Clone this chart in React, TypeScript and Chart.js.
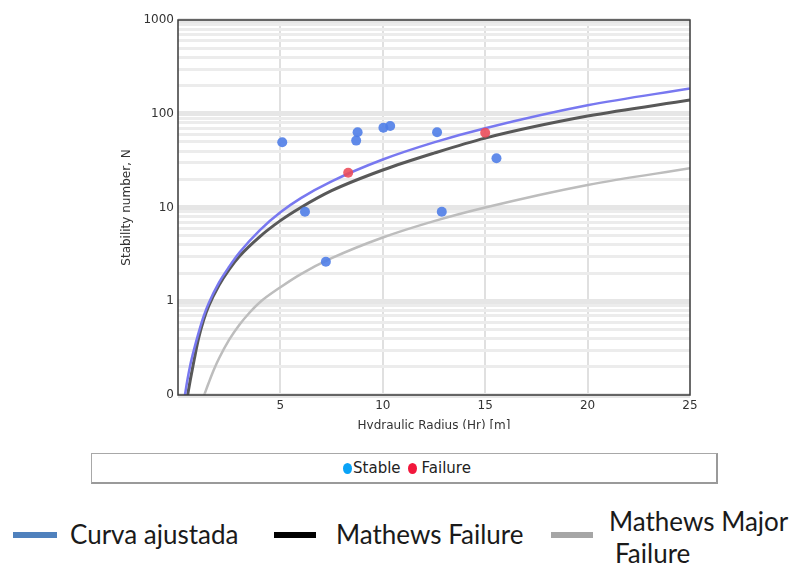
import { useEffect, useRef } from "react";
import { Chart, registerables } from "chart.js";

Chart.register(...registerables);

// Observed cases: hydraulic radius (m) and stability number N
const hrStable = [5.09, 6.2, 8.77, 8.7, 10.03, 10.36, 12.65, 15.55, 12.88, 7.22];
const nStable = [49.6, 9.0, 63.4, 51.7, 71, 74, 63.4, 33.5, 9.0, 2.64];
const hrFailure = [8.31, 15.0];
const nFailure = [23.5, 62.8];

// Fitted boundary curve
const fitHr = [0.34, 0.45, 0.6, 0.8, 1.0, 1.25, 1.5, 2, 2.5, 3, 4, 5, 6, 7.5, 10, 12.5, 15, 20, 25];
const fitN = [0.1, 0.141, 0.209, 0.316, 0.457, 0.69, 0.955, 1.58, 2.34, 3.31, 5.75, 8.9, 12.6, 19, 32.5, 49.5, 70, 123, 186];

// Mathews failure boundary
const failHr = [0.47, 0.6, 0.8, 1.0, 1.25, 1.5, 2, 2.5, 3, 4, 5, 6, 7.5, 10, 12.5, 15, 20, 25];
const failN = [0.1, 0.145, 0.245, 0.398, 0.63, 0.89, 1.48, 2.19, 3.02, 4.9, 7.24, 10, 15.1, 25.1, 38, 55, 94.4, 140];

// Mathews major failure boundary
const majorHr = [1.28, 1.5, 1.75, 2, 2.5, 3, 3.5, 4, 5, 6, 7.5, 10, 12.5, 15, 20, 25];
const majorN = [0.1, 0.135, 0.186, 0.245, 0.389, 0.562, 0.759, 0.977, 1.41, 1.95, 2.88, 4.79, 7.16, 10, 17.4, 26.2];

// Axis ticks
const xTickValues = [5, 10, 15, 20, 25];
const yTickValues = [0.1, 1, 10, 100, 1000];
const yTickLabels = ["0", "1", "10", "100", "1000"];
const yGridValues = [
  0.1, 0.2, 0.3, 0.4, 0.5, 0.6, 0.7, 0.8, 0.9,
  1, 2, 3, 4, 5, 6, 7, 8, 9,
  10, 20, 30, 40, 50, 60, 70, 80, 90,
  100, 200, 300, 400, 500, 600, 700, 800, 900,
  1000,
];

const xTitle = "Hydraulic Radius (Hr) [m]";
const yTitle = "Stability number, N";

const toPoints = (xs: number[], ys: number[]) => xs.map((x, i) => ({ x, y: ys[i] }));
const isDecade = (v: number) => yTickValues.some((t) => Math.abs(t - v) < 1e-9);

const framePlugin = {
  id: "frame",
  afterDraw(chart: any) {
    const { ctx, chartArea: a } = chart;
    ctx.save();
    ctx.strokeStyle = "#3a3a3a";
    ctx.lineWidth = 1.5;
    ctx.strokeRect(a.left, a.top, a.right - a.left, a.bottom - a.top);
    ctx.fillStyle = "#333";
    ctx.font = '12px "DejaVu Sans"';
    ctx.textAlign = "center";
    ctx.textBaseline = "middle";
    ctx.fillText(xTitle, (a.left + a.right) / 2, a.bottom + 31);
    ctx.translate(a.left - 51, (a.top + a.bottom) / 2);
    ctx.rotate(-Math.PI / 2);
    ctx.fillText(yTitle, 0, 0);
    ctx.restore();
  },
};

function StabilityChart() {
  const ref = useRef<HTMLCanvasElement>(null);

  useEffect(() => {
    if (!ref.current) return;
    const curve = (label: string, xs: number[], ys: number[], color: string, width: number, order: number) => ({
      label,
      data: toPoints(xs, ys),
      showLine: true,
      borderColor: color,
      borderWidth: width,
      pointRadius: 0,
      cubicInterpolationMode: "monotone",
      order,
    });
    const chart = new Chart(ref.current, {
      type: "scatter",
      data: {
        datasets: [
          {
            label: "Stable",
            data: toPoints(hrStable, nStable),
            backgroundColor: "rgba(80,126,232,0.9)",
            borderWidth: 0,
            pointRadius: 5,
            order: 0,
          },
          {
            label: "Failure",
            data: toPoints(hrFailure, nFailure),
            backgroundColor: "rgba(236,74,88,0.88)",
            borderWidth: 0,
            pointRadius: 5,
            order: 0,
          },
          curve("Curva ajustada", fitHr, fitN, "#7878f0", 2.5, 1),
          curve("Mathews Failure", failHr, failN, "#585858", 3, 2),
          curve("Mathews Major Failure", majorHr, majorN, "#bdbdbd", 2.5, 3),
        ],
      },
      options: {
        responsive: false,
        animation: false,
        devicePixelRatio: 1,
        layout: { padding: { left: 0, top: 20, right: 103, bottom: 0 } },
        plugins: { legend: { display: false }, tooltip: { enabled: false } },
        scales: {
          x: {
            type: "linear",
            min: 0,
            max: 25,
            afterBuildTicks: (s: any) => {
              s.ticks = [0, ...xTickValues].map((v) => ({ value: v }));
            },
            ticks: {
              padding: 4,
              color: "#333",
              font: { family: "DejaVu Sans", size: 12 },
              callback: (v: any) => (xTickValues.includes(Number(v)) ? String(v) : ""),
            },
            grid: {
              drawTicks: false,
              lineWidth: 2,
              color: (c: any) =>
                c.tick && (c.tick.value === 0 || c.tick.value === 25) ? "rgba(0,0,0,0)" : "#e0e0e0",
            },
            border: { display: false },
            afterFit: (s: any) => {
              s.height = 34;
            },
          },
          y: {
            type: "logarithmic",
            min: 0.1,
            max: 1000,
            afterBuildTicks: (s: any) => {
              s.ticks = yGridValues.map((v) => ({ value: v }));
            },
            ticks: {
              autoSkip: false,
              padding: 4,
              color: "#333",
              font: { family: "DejaVu Sans", size: 12 },
              callback: (v: any) => {
                const i = yTickValues.findIndex((t) => Math.abs(t - Number(v)) < 1e-9);
                return i >= 0 ? yTickLabels[i] : "";
              },
            },
            grid: {
              drawTicks: false,
              lineWidth: (c: any) => (c.tick && isDecade(c.tick.value) ? 5 : 3),
              color: (c: any) => (c.tick && isDecade(c.tick.value) ? "#e6e6e6" : "#ececec"),
            },
            border: { display: false },
            afterFit: (s: any) => {
              s.width = 178;
            },
          },
        },
      },
      plugins: [framePlugin],
    } as any);
    return () => chart.destroy();
  }, []);

  return <canvas ref={ref} width={793} height={429} style={{ display: "block" }} />;
}

const dot = (color: string) => (
  <span
    style={{
      display: "inline-block",
      width: 9,
      height: 11,
      borderRadius: "50%",
      background: color,
      marginRight: 1,
    }}
  />
);

export default function App() {
  const legendFont = '"Lato", "Noto Sans", sans-serif';
  const bar = (left: number, width: number, color: string) => (
    <div style={{ position: "absolute", left, top: 532, width, height: 6, background: color }} />
  );
  const label = (text: string, left: number, centerY: number) => (
    <div
      style={{
        position: "absolute",
        left,
        top: centerY - 16,
        height: 32,
        lineHeight: "32px",
        fontFamily: legendFont,
        fontSize: 26,
        color: "#1a1a1a",
        whiteSpace: "nowrap",
      }}
    >
      {text}
    </div>
  );

  return (
    <div
      style={{
        position: "fixed",
        left: 0,
        top: 0,
        width: 793,
        height: 564,
        background: "#fff",
        overflow: "hidden",
      }}
    >
      <StabilityChart />
      <div
        style={{
          position: "absolute",
          left: 91,
          top: 453,
          width: 627,
          height: 31,
          boxSizing: "border-box",
          borderTop: "1px solid #a8a8a8",
          borderLeft: "1px solid #a8a8a8",
          borderRight: "2px solid #9a9a9a",
          borderBottom: "2px solid #9a9a9a",
          display: "flex",
          alignItems: "center",
          justifyContent: "center",
          fontFamily: '"DejaVu Sans", sans-serif',
          fontSize: 15,
          color: "#222",
          paddingLeft: 6,
        }}
      >
        {dot("#0aa3f7")}
        <span>Stable</span>
        <span style={{ width: 7 }} />
        {dot("#f2173c")}
        <span style={{ marginLeft: 4 }}>Failure</span>
      </div>
      {bar(13, 44, "#4f81bd")}
      {label("Curva ajustada", 70, 534)}
      {bar(274, 42, "#000")}
      {label("Mathews Failure", 336, 534)}
      {bar(551, 42, "#a6a6a6")}
      {label("Mathews Major", 609, 521)}
      {label("Failure", 615, 553)}
    </div>
  );
}
